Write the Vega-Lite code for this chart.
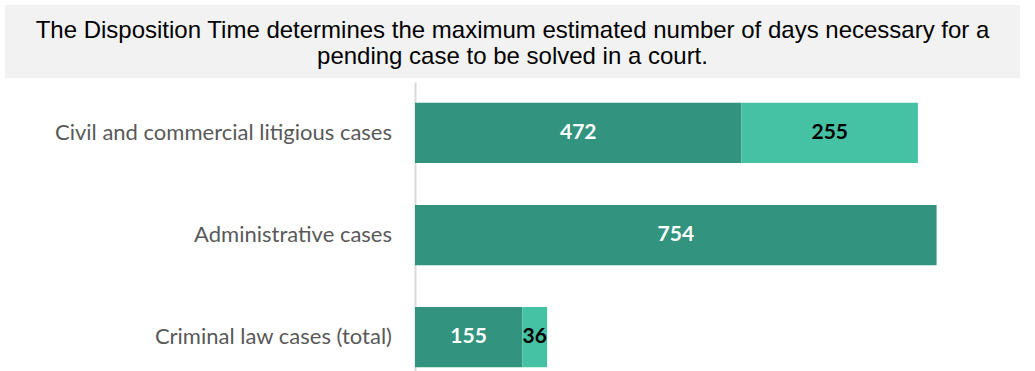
{
  "$schema": "https://vega.github.io/schema/vega-lite/v6.json",
  "padding": {"left": 5, "top": 5, "right": 15, "bottom": 0},
  "spacing": 4,
  "background": "white",
  "config": {"view": {"stroke": null}},
  "datasets": {
    "cases": [
      {"category": "Civil and commercial litigious cases", "segment": "first", "ord": 1, "value": 472},
      {"category": "Civil and commercial litigious cases", "segment": "second", "ord": 2, "value": 255},
      {"category": "Administrative cases", "segment": "first", "ord": 1, "value": 754},
      {"category": "Criminal law cases (total)", "segment": "first", "ord": 1, "value": 155},
      {"category": "Criminal law cases (total)", "segment": "second", "ord": 2, "value": 36}
    ]
  },
  "vconcat": [
    {
      "width": 1015,
      "height": 73,
      "view": {"fill": "#f2f2f2", "stroke": null},
      "data": {"values": [{"t": "The Disposition Time determines the maximum estimated number of days necessary for a|pending case to be solved in a court."}]},
      "mark": {"type": "text", "lineBreak": "|", "font": "Liberation Sans", "fontSize": 24, "lineHeight": 26, "dy": -11, "color": "#000000", "align": "center", "baseline": "middle"},
      "encoding": {"text": {"field": "t", "type": "nominal"}}
    },
    {
      "spacing": 23,
      "hconcat": [
        {
          "width": 387,
          "height": 289,
          "data": {"name": "cases"},
          "transform": [{"filter": "datum.ord === 1"}],
          "mark": {"type": "text", "font": "Lato", "fontSize": 22, "color": "#595959", "align": "right", "baseline": "middle"},
          "encoding": {
            "y": {
              "field": "category", "type": "nominal",
              "sort": ["Civil and commercial litigious cases", "Administrative cases", "Criminal law cases (total)"],
              "scale": {"type": "band", "paddingInner": 0.41, "paddingOuter": 0.12, "align": 0.85},
              "axis": null
            },
            "x": {"datum": 1, "type": "quantitative", "scale": {"domain": [0, 1]}, "axis": null},
            "text": {"field": "category", "type": "nominal"}
          }
        },
        {
          "width": 588,
          "height": 289,
          "data": {"name": "cases"},
          "transform": [
            {"stack": "value", "groupby": ["category"], "sort": [{"field": "ord", "order": "ascending"}], "as": ["v0", "v1"]},
            {"calculate": "(datum.v0 + datum.v1) / 2", "as": "mid"}
          ],
          "encoding": {
            "y": {
              "field": "category", "type": "nominal",
              "sort": ["Civil and commercial litigious cases", "Administrative cases", "Criminal law cases (total)"],
              "scale": {"type": "band", "paddingInner": 0.41, "paddingOuter": 0.12, "align": 0.85},
              "axis": {"title": null, "ticks": false, "labels": false, "domainColor": "#d9d9d9", "domainWidth": 2}
            }
          },
          "layer": [
            {
              "mark": {"type": "bar"},
              "encoding": {
                "x": {"field": "v0", "type": "quantitative", "scale": {"domain": [0, 850], "nice": false}, "axis": null},
                "x2": {"field": "v1"},
                "color": {"field": "segment", "type": "nominal", "scale": {"domain": ["first", "second"], "range": ["#32947E", "#45C1A4"]}, "legend": null}
              }
            },
            {
              "mark": {"type": "text", "font": "Lato", "fontWeight": "bold", "fontSize": 21, "align": "center", "baseline": "middle"},
              "encoding": {
                "x": {"field": "mid", "type": "quantitative", "scale": {"domain": [0, 850], "nice": false}, "axis": null},
                "text": {"field": "value", "type": "quantitative"},
                "color": {"condition": {"test": "datum.segment === 'first'", "value": "#ffffff"}, "value": "#000000"}
              }
            }
          ]
        }
      ]
    }
  ]
}
